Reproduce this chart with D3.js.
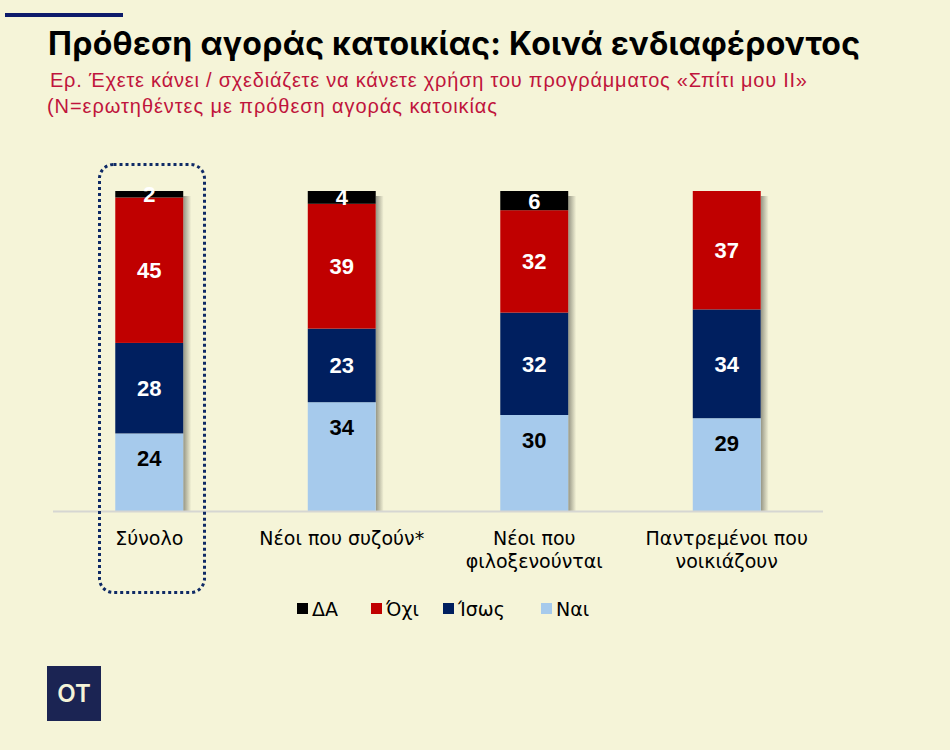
<!DOCTYPE html>
<html><head><meta charset="utf-8">
<script src="https://cdn.jsdelivr.net/npm/d3@7"></script>
<style>
html,body{margin:0;padding:0;background:#f5f4d8;}
svg{display:block;}
</style></head>
<body>
<svg id="chart" width="950" height="750"></svg>
<script>
const categories = ["Σύνολο", "Νέοι που συζούν*", "Νέοι που φιλοξενούνται", "Παντρεμένοι που νοικιάζουν"];
const categoryLines = [["Σύνολο"], ["Νέοι που συζούν*"], ["Νέοι που", "φιλοξενούνται"], ["Παντρεμένοι που", "νοικιάζουν"]];
const seriesNames = ["Ναι", "Ίσως", "Όχι", "ΔΑ"];
const nai   = [24, 34, 30, 29];
const isos  = [28, 23, 32, 34];
const oxi   = [45, 39, 32, 37];
const da    = [2, 4, 6, 0];
const legendOrder = ["ΔΑ", "Όχι", "Ίσως", "Ναι"];
const colors = {"Ναι":"#a6caec","Ίσως":"#001f5f","Όχι":"#c00000","ΔΑ":"#000000"};
const labelColors = {"Ναι":"#000","Ίσως":"#fff","Όχι":"#fff","ΔΑ":"#fff"};

const rows = categories.map((c,i)=>({cat:c, "Ναι":nai[i], "Ίσως":isos[i], "Όχι":oxi[i], "ΔΑ":da[i]}));

const svg = d3.select("#chart");
const bg = "#f5f4d8";
svg.append("rect").attr("width",950).attr("height",750).attr("fill",bg);

// top line
svg.append("rect").attr("x",5).attr("y",13).attr("width",118).attr("height",4).attr("fill","#0d1b6b");

// title
svg.append("text").attr("x",48).attr("y",55)
  .attr("font-family","Inter, 'Noto Sans', sans-serif").attr("font-weight",700)
  .attr("font-size",32).attr("fill","#000")
  .attr("textLength",812).attr("lengthAdjust","spacing")
  .text("Πρόθεση αγοράς κατοικίας: Κοινά ενδιαφέροντος");
svg.append("text").attr("x",50).attr("y",87)
  .attr("font-family","'Liberation Sans', Arial, sans-serif").attr("font-size",20).attr("fill","#c0143c")
  .attr("textLength",757).attr("lengthAdjust","spacing")
  .text("Ερ. Έχετε κάνει / σχεδιάζετε να κάνετε χρήση του προγράμματος «Σπίτι μου ΙΙ»");
svg.append("text").attr("x",47).attr("y",113)
  .attr("font-family","'Liberation Sans', Arial, sans-serif").attr("font-size",20).attr("fill","#c0143c")
  .attr("textLength",450).attr("lengthAdjust","spacing")
  .text("(N=ερωτηθέντες με πρόθεση αγοράς κατοικίας");

const x = d3.scaleBand().domain(categories).range([53,823]).paddingInner(0.647).paddingOuter(0.3235);
const y = d3.scaleLinear().domain([0,1]).range([511,191]);

const stack = d3.stack().keys(seriesNames).offset(d3.stackOffsetExpand);
const stacked = stack(rows);

// shadow gradient
const defs = svg.append("defs");
const grad = defs.append("linearGradient").attr("id","shadow").attr("x1","0").attr("x2","1").attr("y1","0").attr("y2","0");
grad.append("stop").attr("offset","0").attr("stop-color","#8a8a7a").attr("stop-opacity",0.9);
grad.append("stop").attr("offset","1").attr("stop-color","#8a8a7a").attr("stop-opacity",0);

svg.append("g").selectAll("rect").data(categories).join("rect")
  .attr("x",d=>x(d)+x.bandwidth()).attr("y",y(1)+5).attr("width",8).attr("height",y(0)-y(1)-5)
  .attr("fill","url(#shadow)");

// bars
const g = svg.append("g");
stacked.forEach(s=>{
  g.selectAll(null).data(s.filter(d=>d[1]-d[0]>0)).join("rect")
    .attr("x",d=>x(d.data.cat)).attr("width",x.bandwidth())
    .attr("y",d=>y(d[1])).attr("height",d=>y(d[0])-y(d[1]))
    .attr("fill",colors[s.key]);
});

// axis line
svg.append("line").attr("x1",53).attr("x2",823).attr("y1",511.5).attr("y2",511.5)
  .attr("stroke","#d6d6d2").attr("stroke-width",2);

// value labels
stacked.forEach(s=>{
  g.selectAll(null).data(s.filter(d=>d.data[s.key]>0)).join("text")
    .attr("x",d=>x(d.data.cat)+x.bandwidth()/2)
    .attr("y",d=> s.key==="Ναι" ? y(d[1])+25 : (y(d[0])+y(d[1]))/2)
    .attr("dy","0.36em")
    .attr("text-anchor","middle")
    .attr("font-family","'Liberation Sans', Arial, sans-serif").attr("font-weight",700).attr("font-size",22)
    .attr("fill",labelColors[s.key])
    .text(d=>d.data[s.key]);
});

// category labels
const cl = svg.append("g");
categories.forEach((c,i)=>{
  const t = cl.append("text").attr("text-anchor","middle")
    .attr("font-family","'DejaVu Sans', Verdana, sans-serif").attr("font-size",19).attr("fill","#000");
  categoryLines[i].forEach((ln,j)=>{
    t.append("tspan").attr("x",x(c)+x.bandwidth()/2).attr("y",545+j*23).text(ln);
  });
});

// dotted highlight box
svg.append("rect").attr("x",99.5).attr("y",164.5).attr("width",105).attr("height",428).attr("rx",14)
  .attr("fill","none").attr("stroke","#0f2a66").attr("stroke-width",3).attr("stroke-dasharray","3,3");

// legend
const legendX = [297, 371, 443, 541];
const lg = svg.append("g");
legendOrder.forEach((k,i)=>{
  lg.append("rect").attr("x",legendX[i]).attr("y",603).attr("width",11).attr("height",11).attr("fill",colors[k]);
  lg.append("text").attr("x",legendX[i]+15).attr("y",616)
    .attr("font-family","'DejaVu Sans', Verdana, sans-serif").attr("font-size",19).attr("fill","#000").text(k);
});

// logo
svg.append("rect").attr("x",47).attr("y",666).attr("width",54).attr("height",55).attr("fill","#1b2453");
svg.append("text").attr("x",74).attr("y",702).attr("text-anchor","middle")
  .attr("font-family","Inter, 'Noto Sans', sans-serif").attr("font-weight",600).attr("font-size",24).attr("fill","#f5f4d8").text("OT");
</script>
</body></html>
